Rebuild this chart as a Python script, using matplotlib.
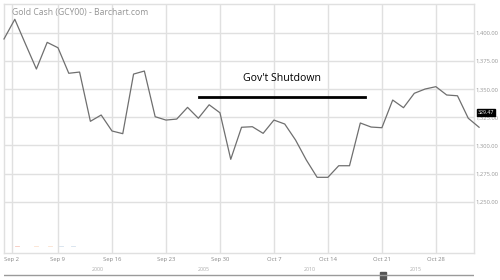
import matplotlib
matplotlib.use("Agg")
import matplotlib.pyplot as plt
import numpy as np

# Data: daily gold cash closes (trading-day index), Aug 30 -> Nov 1
prices = [1394.7, 1412.2, 1390.0, 1368.0, 1391.7, 1386.9, 1364.2, 1365.3, 1321.5, 1327.1,
          1312.9, 1310.5, 1363.5, 1366.2, 1325.6, 1322.6, 1323.5, 1333.9, 1324.2, 1336.2,
          1329.1, 1287.7, 1316.2, 1316.7, 1310.8, 1322.6, 1319.1, 1304.9, 1287.1, 1271.7,
          1271.7, 1282.0, 1282.0, 1320.0, 1316.4, 1315.8, 1340.4, 1333.6, 1346.4, 1350.2,
          1352.3, 1344.9, 1344.2, 1324.2, 1316.2]
x_tick_pos = [0.74, 5, 10, 15, 20, 25, 30, 35, 40]
x_tick_labels = ["Sep 2", "Sep 9", "Sep 16", "Sep 23", "Sep 30", "Oct 7", "Oct 14", "Oct 21", "Oct 28"]
y_ticks = [1250, 1275, 1300, 1325, 1350, 1375, 1400]
y_tick_labels = ["1,250.00", "1,275.00", "1,300.00", "1,325.00", "1,350.00", "1,375.00", "1,400.00"]
last_label = "329.47"
last_value = 1329.47
title = "Gold Cash (GCY00) - Barchart.com"
annotation = "Gov't Shutdown"
shutdown_span = (18.1, 33.4)
shutdown_level = 1343.4
annotation_level = 1359.5
nav_years = ["2000", "2005", "2010", "2015"]

plt.rcParams['font.family'] = ['Open Sans', 'DejaVu Sans']

fig = plt.figure(figsize=(5, 2.8), dpi=100)
ax = fig.add_axes([0.008, 0.0964, 0.94, 0.8893])
ax.set_xlim(0, 43.53)
ax.set_ylim(1204.4, 1425.8)

grid_c = "#e0e0e0"
for yv in y_ticks:
    ax.axhline(yv, color=grid_c, lw=1.0, zorder=0)
for xv in x_tick_pos:
    ax.axvline(xv, color=grid_c, lw=1.0, zorder=0)
for s in ax.spines.values():
    s.set_color(grid_c)
    s.set_linewidth(1.0)

ax.set_xticks(x_tick_pos)
ax.set_xticklabels(x_tick_labels)
ax.tick_params(axis='x', length=0, pad=3, labelsize=4.2, labelcolor="#888888")
ax.yaxis.tick_right()
ax.set_yticks(y_ticks)
ax.set_yticklabels(y_tick_labels)
ax.tick_params(axis='y', length=0, pad=1, labelsize=4.2, labelcolor="#999999")

xs = np.arange(len(prices))
ax.plot(xs, prices, color="#6f6f6f", lw=0.9, clip_on=False, zorder=3)

ax.text(0.016, 0.985, title, transform=ax.transAxes, fontsize=6.2, color="#959595",
        ha="left", va="top")

ax.plot(shutdown_span, [shutdown_level, shutdown_level], color="black", lw=2.0, zorder=4)
ax.text(sum(shutdown_span) / 2, annotation_level, annotation, fontsize=7.6, color="black",
        ha="center", va="center")

ax.annotate(last_label, xy=(1.0, last_value), xycoords=("axes fraction", "data"),
            xytext=(2.5, 0), textcoords="offset points", fontsize=3.8, color="white",
            ha="left", va="center",
            bbox=dict(boxstyle="square,pad=0.15", fc="black", ec="black"),
            annotation_clip=False, zorder=6)

# faint comparison markers near bottom-left
for x0, c in [(1.0, "#f6c8bc"), (2.8, "#fbe2d0"), (4.1, "#fbe2d0"), (5.1, "#d4e0ec"), (6.2, "#d4e0ec")]:
    ax.plot([x0, x0 + 0.35], [1211, 1211], color=c, lw=0.6, zorder=1)

# navigator strip
nav = fig.add_axes([0.008, 0.0, 0.94, 0.0964])
nav.set_xlim(0, 1)
nav.set_ylim(0, 1)
nav.axis("off")
nav.plot([0, 1], [0.2, 0.2], color="#9a9a9a", lw=1.0)
for i, yr in enumerate(nav_years):
    nav.text(0.2 + i * 0.225, 0.38, yr, fontsize=3.8, color="#aaaaaa", ha="center", va="center")
nav.add_patch(plt.Rectangle((0.8, 0.03), 0.013, 0.25, color="#555555"))

fig.savefig("out.png", dpi=100)
